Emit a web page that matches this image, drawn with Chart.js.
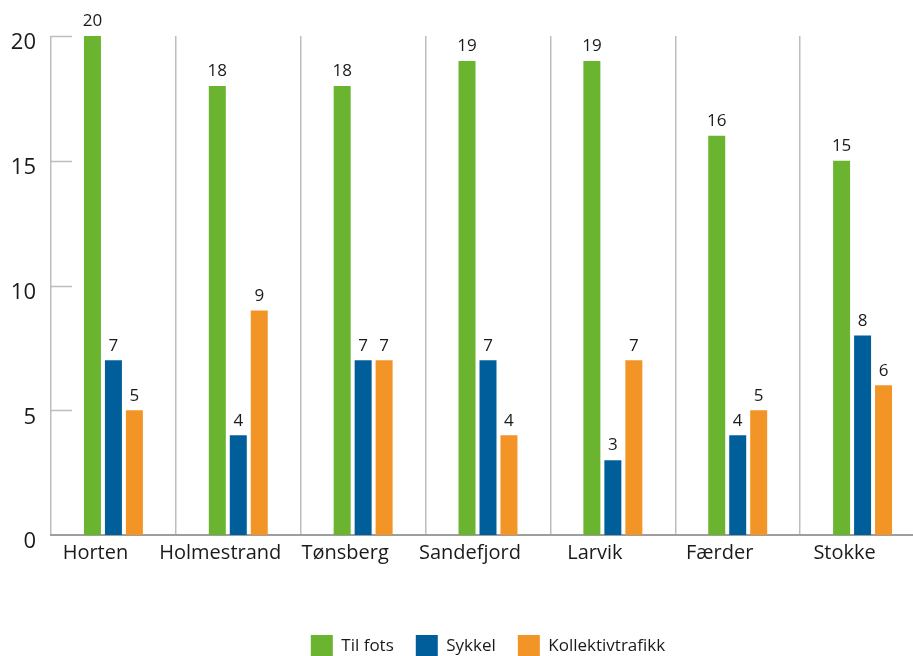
<!DOCTYPE html>
<html lang="no">
<head>
<meta charset="UTF-8" />
<title>Reisemiddel per kommune</title>
<script src="https://cdn.jsdelivr.net/npm/chart.js"></script>
<style>
  html, body { margin: 0; padding: 0; background: #fff; overflow: hidden; }
  #wrap { width: 930px; height: 667px; }
</style>
</head>
<body>
<div id="wrap"><canvas id="chart" width="930" height="667"></canvas></div>
<script>
  const kommuner = ['Horten', 'Holmestrand', 'Tønsberg', 'Sandefjord', 'Larvik', 'Færder', 'Stokke'];
  const tilFots = [20, 18, 18, 19, 19, 16, 15];
  const sykkel = [7, 4, 7, 7, 3, 4, 8];
  const kollektiv = [5, 9, 7, 4, 7, 5, 6];

  const FONT = "'Open Sans', sans-serif";
  const TEXT = '#1a1a1a';

  // short inward tick marks on the value axis
  const yTicks = {
    id: 'yTicks',
    afterDatasetsDraw(chart) {
      const { ctx, chartArea, scales } = chart;
      ctx.save();
      ctx.strokeStyle = '#bdbdbd';
      ctx.lineWidth = 1.5;
      scales.y.ticks.forEach(t => {
        if (t.value === 0) return;
        const y = Math.round(scales.y.getPixelForValue(t.value)) + 0.5;
        ctx.beginPath();
        ctx.moveTo(chartArea.left, y);
        ctx.lineTo(chartArea.left + 21, y);
        ctx.stroke();
      });
      ctx.restore();
    }
  };

  // value labels above each bar
  const barValues = {
    id: 'barValues',
    afterDatasetsDraw(chart) {
      const { ctx } = chart;
      ctx.save();
      ctx.font = '17px ' + FONT;
      ctx.fillStyle = TEXT;
      ctx.textAlign = 'center';
      ctx.textBaseline = 'bottom';
      chart.data.datasets.forEach((ds, i) => {
        chart.getDatasetMeta(i).data.forEach((bar, j) => {
          ctx.fillText(ds.data[j], bar.x, bar.y - 6);
        });
      });
      ctx.restore();
    }
  };

  new Chart(document.getElementById('chart'), {
    type: 'bar',
    data: {
      labels: kommuner,
      datasets: [
        { label: 'Til fots', data: tilFots, backgroundColor: '#6ab430' },
        { label: 'Sykkel', data: sykkel, backgroundColor: '#005f9b' },
        { label: 'Kollektivtrafikk', data: kollektiv, backgroundColor: '#f39426' }
      ]
    },
    options: {
      responsive: false,
      animation: false,
      devicePixelRatio: 1,
      categoryPercentage: 0.504,
      barPercentage: 0.81,
      layout: { padding: { top: 36, right: 5, left: 0, bottom: 0 } },
      plugins: {
        tooltip: { enabled: false },
        legend: {
          position: 'bottom',
          fullSize: false,
          labels: {
            boxWidth: 22,
            boxHeight: 22,
            padding: 22,
            color: TEXT,
            font: { family: FONT, size: 17 }
          }
        }
      },
      scales: {
        x: {
          offset: true,
          grid: { offset: true, color: '#bdbdbd', lineWidth: 1.5, drawTicks: false },
          border: { display: true, color: '#9e9e9e', width: 2 },
          ticks: {
            autoSkip: false,
            color: TEXT,
            font: { family: FONT, size: 20 },
            padding: 6,
            labelOffset: -18,
            maxRotation: 0
          },
          afterFit(s) { s.height = 78; }
        },
        y: {
          min: 0,
          max: 20,
          grid: { display: false, drawTicks: false },
          border: { display: false },
          ticks: {
            stepSize: 5,
            color: TEXT,
            font: { family: FONT, size: 22 },
            padding: 15,
            labelOffset: 7
          },
          afterFit(s) { s.width = 51; }
        }
      }
    },
    plugins: [yTicks, barValues]
  });
</script>
</body>
</html>
